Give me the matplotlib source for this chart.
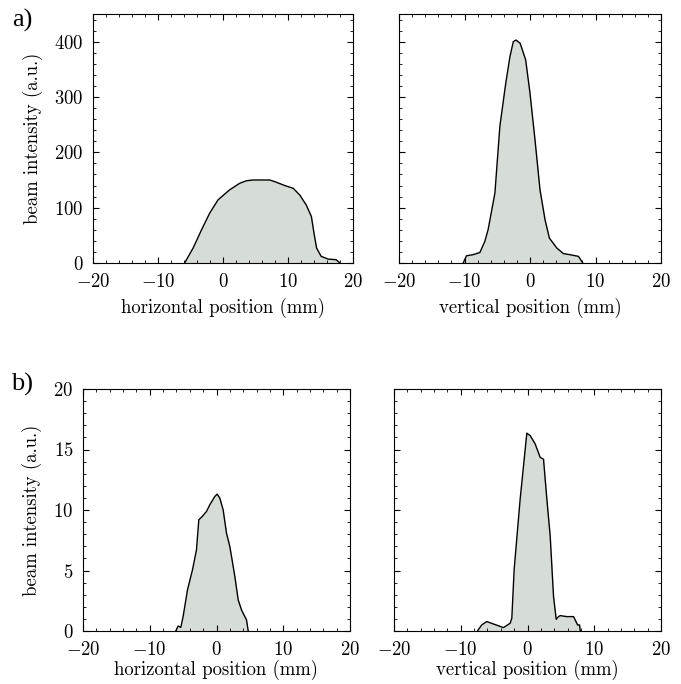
import matplotlib
matplotlib.use("Agg")
import matplotlib.pyplot as plt
from matplotlib.ticker import MultipleLocator

plt.rcParams['font.family'] = 'serif'
plt.rcParams['font.serif'] = ['cmr10']
plt.rcParams['mathtext.fontset'] = 'cm'
plt.rcParams['axes.formatter.use_mathtext'] = True
plt.rcParams['font.size'] = 13.5

# a) horizontal profile
ah_x = [-5.9, -4.6, -3.3, -2.05, -0.77, 0.5, 1.0, 2.56, 3.6, 4.6, 7.2, 8.2, 9.5,
        10.8, 11.8, 12.8, 13.6, 14.0, 14.4, 15.1, 16.2, 17.4, 17.9]
ah_y = [0, 27, 60, 90, 114, 127, 132, 144, 148.6, 150, 150, 146, 140,
        135, 123, 105, 84, 54, 27, 12, 7, 6, 1]

# a) vertical profile
av_x = [-10.2, -9.7, -8.7, -7.65, -6.9, -6.4, -5.36, -4.6, -3.7, -3.06, -2.55, -2.14,
        -1.5, -0.66, 0.0, 0.77, 1.53, 2.3, 2.96, 4.1, 5.1, 6.1, 7.4, 7.9, 8.06]
av_y = [0, 13, 15, 19, 39, 60, 126, 247, 325, 373, 400, 403,
        397, 367, 307, 222, 132, 78, 45, 27, 17, 15, 12, 3, 0]

# b) horizontal profile
bh_x = [-6.1, -5.75, -5.35, -5.0, -4.35, -3.6, -3.0, -2.65, -2.15, -1.5, -1.0, -0.25,
        0.1, 0.5, 1.0, 1.5, 2.0, 2.75, 3.25, 3.75, 4.5, 4.75]
bh_y = [0, 0.41, 0.3, 1.19, 3.39, 5.05, 6.7, 9.19, 9.46, 9.88, 10.43, 11.12,
        11.31, 10.98, 10.0, 8.08, 6.98, 4.5, 2.57, 1.74, 0.91, 0]

# b) vertical profile
bv_x = [-7.5, -6.86, -6.1, -5.1, -3.6, -2.6, -2.35, -2.0, -1.1, -0.1, 0.4, 1.15, 1.9,
        2.4, 2.9, 3.4, 3.9, 4.3, 4.65, 4.9, 5.9, 6.9, 7.15, 7.5, 7.8, 7.9]
bv_y = [0, 0.5, 0.78, 0.58, 0.28, 0.64, 1.05, 5.07, 10.9, 16.35, 16.15, 15.46, 14.35,
        14.2, 10.9, 7.84, 2.85, 0.97, 1.19, 1.27, 1.19, 1.19, 0.91, 0.5, 0.5, 0]

W, H = 681, 684
fig = plt.figure(figsize=(W / 100, H / 100), dpi=100)

def box(l, t, r, b):
    return [l / W, 1 - b / H, (r - l) / W, (b - t) / H]

axes = [
    (fig.add_axes(box(93, 14, 353, 263)), ah_x, ah_y, 'horizontal position (mm)', 450, 100, 20, True, 5),
    (fig.add_axes(box(399, 14, 661, 263)), av_x, av_y, 'vertical position (mm)', 450, 100, 20, False, 5),
    (fig.add_axes(box(83, 389, 350, 631)), bh_x, bh_y, 'horizontal position (mm)', 20, 5, 1, True, 1),
    (fig.add_axes(box(394, 389, 661, 631)), bv_x, bv_y, 'vertical position (mm)', 20, 5, 1, False, 1),
]

for ax, x, y, xlab, ytop, ymaj, ymin, left, lpad in axes:
    ax.fill_between(x, y, 0, color='#d6dcd6', lw=0)
    ax.plot(x, y, color='black', lw=1.0)
    ax.set_xlim(-20, 20)
    ax.set_ylim(0, ytop)
    ax.xaxis.set_major_locator(MultipleLocator(10))
    ax.xaxis.set_minor_locator(MultipleLocator(2))
    ax.yaxis.set_major_locator(MultipleLocator(ymaj))
    ax.yaxis.set_minor_locator(MultipleLocator(ymin))
    ax.tick_params(which='both', direction='in', top=True, right=True)
    ax.tick_params(which='major', length=4, width=0.8)
    ax.tick_params(axis='x', which='major', pad=7)
    ax.tick_params(axis='y', which='major', pad=7)
    ax.tick_params(which='minor', length=2, width=0.6)
    ax.set_xlabel(xlab, labelpad=lpad)
    if left:
        ax.set_ylabel('beam intensity (a.u.)', labelpad=8)
    else:
        ax.set_yticklabels([])

fig.text(22 / W, 1 - 20 / H, 'a)', fontsize=19, family='Liberation Serif', ha='center', va='center')
fig.text(22 / W, 1 - 384 / H, 'b)', fontsize=19, family='Liberation Serif', ha='center', va='center')

fig.savefig('out.png', dpi=100)
